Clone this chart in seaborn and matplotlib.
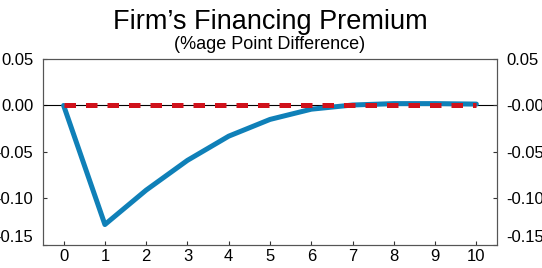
import matplotlib
matplotlib.use("Agg")
import matplotlib.pyplot as plt
import seaborn as sns
import pandas as pd

# impulse response, quarters after shock
quarters = [0, 1, 2, 3, 4, 5, 6, 7, 8, 9, 10]
premium = [0.0, -0.128, -0.091, -0.059, -0.033, -0.015, -0.004, 0.0005, 0.002, 0.002, 0.0015]
baseline = [0.0] * len(quarters)

yticks = [0.05, 0.0, -0.05, -0.10, -0.15]
left_labels = ["0.05", "0.00", "-0.05", "-0.10", "-0.15"]
right_labels = ["0.05", "-0.00", "-0.05", "-0.10", "-0.15"]

sns.set_style("ticks")
plt.rcParams['font.family'] = ['Liberation Sans', 'DejaVu Sans']
plt.rcParams['text.color'] = 'black'

df = pd.DataFrame({'q': quarters, 'premium': premium, 'base': baseline})

fig = plt.figure(figsize=(5.42, 2.68), dpi=100)
ax = fig.add_axes([0.0793, 0.0858, 0.8377, 0.6942])

ax.axhline(0, color='black', lw=0.8, zorder=1)
sns.lineplot(data=df, x='q', y='premium', ax=ax, color='#0f80b8', lw=3.6, zorder=2)
sns.lineplot(data=df, x='q', y='base', ax=ax, color='#d0121b', lw=3.6, zorder=3)
ax.lines[-1].set_dashes([2.3, 2.0])

ax.set_xlim(-0.5, 10.5)
ax.set_ylim(-0.15, 0.05)
ax.set_xticks(quarters)
ax.set_yticks(yticks)
ax.set_yticklabels(left_labels)
ax.set_xlabel('')
ax.set_ylabel('')
ax.tick_params(direction='in', length=3, width=0.8, labelsize=12, color='#333333', labelcolor='black')
ax.tick_params(axis='y', pad=7)
ax.tick_params(axis='x', pad=3)

ax2 = ax.twinx()
ax2.set_ylim(-0.15, 0.05)
ax2.set_yticks(yticks)
ax2.set_yticklabels(right_labels)
ax2.tick_params(direction='in', length=3, width=0.8, labelsize=12, pad=7, color='#333333', labelcolor='black')

# bottom labels sit a little above the axis, as in the original
ax.get_yticklabels()[-1].set_va('bottom')
ax2.get_yticklabels()[-1].set_va('bottom')

for a in (ax, ax2):
    for s in a.spines.values():
        s.set_color('#555555')
        s.set_linewidth(0.8)

fig.text(0.498, 1 - 29 / 268, 'Firm\u2019s Financing Premium', ha='center', va='baseline', fontsize=19.5)
fig.text(0.498, 1 - 49 / 268, '(%age Point Difference)', ha='center', va='baseline', fontsize=13)

fig.savefig('out.png', dpi=100)
